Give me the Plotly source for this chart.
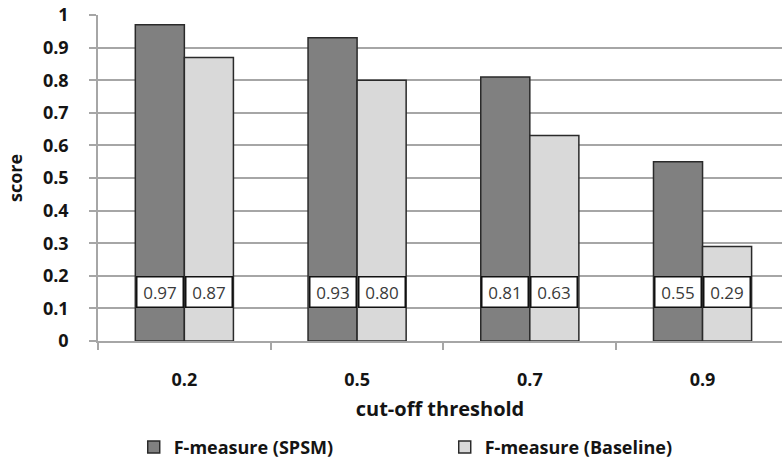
import plotly.graph_objects as go

categories = ["0.2", "0.5", "0.7", "0.9"]
series_names = ["F-measure (SPSM)", "F-measure (Baseline)"]
spsm = [0.97, 0.93, 0.81, 0.55]
baseline = [0.87, 0.80, 0.63, 0.29]
spsm_labels = ["0.97", "0.93", "0.81", "0.55"]
baseline_labels = ["0.87", "0.80", "0.63", "0.29"]
ytick_vals = [0, 0.1, 0.2, 0.3, 0.4, 0.5, 0.6, 0.7, 0.8, 0.9, 1]
ytick_text = ["0", "0.1", "0.2", "0.3", "0.4", "0.5", "0.6", "0.7", "0.8", "0.9", "1"]
label_y = 0.15

xpos = list(range(len(categories)))
bargap = 0.432
bw = (1 - bargap) / 2

def b(t):
    return "<b>" + t + "</b>"

FONT = "Open Sans"
INK = "#141414"

fig = go.Figure()
fig.add_trace(go.Bar(x=xpos, y=spsm, name=b(series_names[0]),
                     marker=dict(color="#808080", line=dict(color="#2a2a2a", width=1.5))))
fig.add_trace(go.Bar(x=xpos, y=baseline, name=b(series_names[1]),
                     marker=dict(color="#d9d9d9", line=dict(color="#2a2a2a", width=1.5))))

label_font = dict(family=FONT, size=17, color="#3a3a3a")
for i in xpos:
    for off, txt in ((-bw / 2, spsm_labels[i]), (bw / 2, baseline_labels[i])):
        fig.add_annotation(x=i + off, y=label_y, xref="x", yref="y", text=txt,
                           showarrow=False, font=label_font, bgcolor="white",
                           bordercolor="#111111", borderwidth=1.5, borderpad=1.5,
                           width=42, height=26)

axis_font = dict(family=FONT, size=18, color=INK)
fig.update_layout(
    width=782, height=464,
    margin=dict(l=98, r=0, t=15, b=123, autoexpand=False),
    paper_bgcolor="white", plot_bgcolor="white",
    barmode="group", bargap=bargap, bargroupgap=0,
    font=dict(family=FONT, color=INK),
    showlegend=True,
    legend=dict(orientation="h", xref="container", yref="container",
                x=0.171, y=0.036, xanchor="left", yanchor="middle",
                entrywidth=266, entrywidthmode="pixels",
                font=dict(family=FONT, size=18, color=INK),
                itemwidth=30, traceorder="normal"),
)
fig.update_xaxes(range=[-0.5, 3.46], tickvals=xpos, ticktext=[b(c) for c in categories],
                 tickfont=axis_font, ticks="", showgrid=False, automargin=False,
                 showline=True, linecolor="#a6a6a6", linewidth=1.5,
                 ticklabelstandoff=22,
                 minor=dict(ticks="outside", tick0=0.5, dtick=1, ticklen=7,
                            tickcolor="#a6a6a6", tickwidth=1.5, showgrid=False),
                 title=dict(text=b("cut-off threshold"), font=dict(family=FONT, size=20, color=INK),
                            standoff=12),
                 zeroline=False)
fig.update_yaxes(range=[0, 1], tickvals=ytick_vals, ticktext=[b(t) for t in ytick_text],
                 tickfont=axis_font, ticks="outside", ticklen=7, tickcolor="#a6a6a6", tickwidth=1.5,
                 showgrid=True, gridcolor="#a6a6a6", gridwidth=1.5, automargin=False,
                 showline=True, linecolor="#a6a6a6", linewidth=1.5,
                 ticklabelstandoff=17,
                 title=dict(text=b("score"), font=dict(family=FONT, size=18, color=INK),
                            standoff=16),
                 zeroline=False)

fig.write_html("out.html")
